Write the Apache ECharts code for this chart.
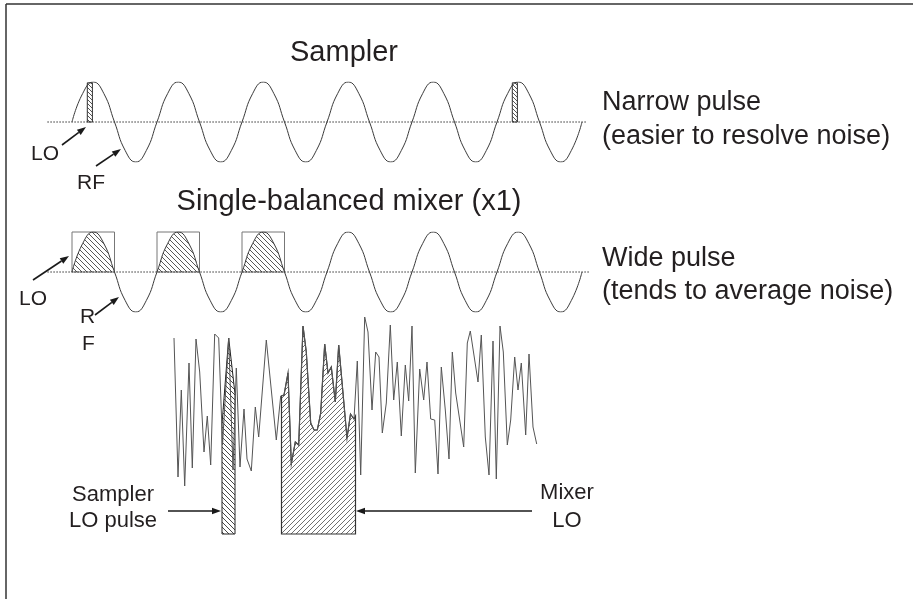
<!DOCTYPE html>
<html>
<head>
<meta charset="utf-8">
<title>Sampler vs mixer</title>
<script src="https://cdn.jsdelivr.net/npm/echarts@6/dist/echarts.min.js"></script>
<style>
  html, body { margin: 0; padding: 0; background: #fff; }
  #container { width: 913px; height: 599px; }
</style>
</head>
<body>
<div id="container"></div>
<script>
// one cycle of the RF wave, read at eighth-period steps (normalised amplitude)
var cycleT = [0, 0.125, 0.25, 0.375, 0.5, 0.625, 0.75, 0.875];
var cycleV = [0, 0.71, 1, 0.71, 0, -0.71, -1, -0.71];
var nCycles = 6;

// positive half cycle (mixer LO window)
var halfT = [0, 0.125, 0.25, 0.375, 0.5];
var halfV = [0, 0.71, 1, 0.71, 0];
var mixerWindows = [0, 1, 2];            // cycles that carry a wide LO pulse
var samplerPulses = [[0.18, 0.24], [5.18, 5.24]];  // narrow LO pulses (cycles)
var samplerPulseTop = 0.98;

// noisy RF (time, level)
var noiseT = [0, 4, 7.3, 10.7, 15, 18.3, 22, 25.7, 30, 33.3, 36.7, 40.7, 44.7, 48.5, 54.7, 59, 62.3, 66, 70, 73, 77.3, 81.3, 84.7,
  92.3, 102.3, 106.7, 110, 114, 117.3, 121.3, 124.7, 129, 132.3, 136.7, 140, 143.3, 146.7, 150.7, 154, 157.3, 161.3, 164.7,
  169, 173, 176.5, 180, 183.3, 186.7, 190.7, 194, 198, 201.7, 205, 208.3, 212.3, 216.3, 219.7, 223.3, 227.3, 231.3, 234.7,
  238, 241.3, 245.7, 249.7, 253, 256.7, 260.7, 264, 267.3, 271.3, 275, 278.3, 281.7, 285.7, 289.7, 293.3, 296.3, 300.7, 304,
  307.3, 311.3, 315, 319, 322.3, 326, 329.3, 333.3, 336.7, 340.7, 344, 347.3, 351.7, 355, 359, 362.7];
var noiseV = [196, 57, 144, 48, 171, 66, 195, 162, 82, 118, 69, 200, 196, 89, 196, 64, 166, 67, 125, 75, 63, 127, 97,
  194, 94, 138, 139, 161, 70, 92, 89, 208, 182, 111, 104, 104, 121, 190, 161, 167, 132, 189,
  141, 96, 120, 115, 173, 59, 217, 202, 124, 182, 177, 101, 131, 209, 134, 172, 98, 169, 133,
  208, 61, 165, 134, 172, 115, 114, 60, 167, 124, 75, 182, 141, 114, 87, 191, 203, 174, 152,
  199, 97, 59, 193, 55, 208, 182, 89, 114, 177, 144, 171, 99, 180, 107, 90];

// sampler LO pulse on the noise (top outline)
var samplerLoT = [48, 54.7, 61];
var samplerLoV = [110, 196, 140];
// mixer LO window on the noise
var mixerLoStart = 107.5, mixerLoEnd = 181.5;
var mixerLoStartV = 138, mixerLoEndV = 118;

var font = "'Liberation Sans', Arial, sans-serif";
var ink = '#231f20';

function hatch(size, dir, color, width) {
  var c = document.createElement('canvas');
  c.width = c.height = size;
  var g = c.getContext('2d');
  g.strokeStyle = color;
  g.lineWidth = width;
  g.beginPath();
  for (var k = -1; k <= 1; k++) {
    if (dir === 'back') { g.moveTo(k * size, 0); g.lineTo(k * size + size, size); }
    else { g.moveTo(k * size, size); g.lineTo(k * size + size, 0); }
  }
  g.stroke();
  return { image: c, repeat: 'repeat' };
}

var hatchBox = hatch(5, 'back', '#3a3a3a', 0.85);
var hatchNarrow = hatch(4, 'back', '#444', 0.9);
var hatchSampler = hatch(5, 'back', '#333', 0.9);
var hatchMixer = hatch(5, 'fwd', '#555', 0.85);

// build wave data
var wave = [];
for (var c = 0; c < nCycles; c++) {
  for (var i = 0; i < cycleT.length; i++) wave.push([c + cycleT[i], cycleV[i]]);
}
wave.push([nCycles, 0]);

var noise = noiseT.map(function (t, i) { return [t, noiseV[i]]; });

var samplerPoly = [[samplerLoT[0], 0]];
samplerLoT.forEach(function (t, i) { samplerPoly.push([t, samplerLoV[i]]); });
samplerPoly.push([samplerLoT[samplerLoT.length - 1], 0]);

var mixerPoly = [[mixerLoStart, 0], [mixerLoStart, mixerLoStartV]];
noise.forEach(function (p) { if (p[0] > mixerLoStart && p[0] < mixerLoEnd) mixerPoly.push(p); });
mixerPoly.push([mixerLoEnd, mixerLoEndV], [mixerLoEnd, 0]);

function polySeries(poly, fill, xi, stroke, lw) {
  return {
    type: 'custom', xAxisIndex: xi, yAxisIndex: xi, data: [0], silent: true, z: 3,
    renderItem: function (params, api) {
      return {
        type: 'polygon',
        shape: { points: poly.map(function (p) { return api.coord(p); }) },
        style: { fill: fill, stroke: stroke, lineWidth: lw }
      };
    }
  };
}

var series = [];
// sampler wave
series.push({ type: 'line', xAxisIndex: 0, yAxisIndex: 0, data: [[-0.29, 0], [6.05, 0]], symbol: 'none',
  lineStyle: { color: '#333', width: 1, type: [1.5, 1.5] }, z: 1 });
series.push({ type: 'line', xAxisIndex: 0, yAxisIndex: 0, data: wave, smooth: 0.5, symbol: 'none',
  lineStyle: { color: '#3a3a3a', width: 1 }, z: 2 });
samplerPulses.forEach(function (p) {
  series.push(polySeries([[p[0], 0], [p[0], samplerPulseTop], [p[1], samplerPulseTop], [p[1], 0]],
    hatchNarrow, 0, '#333', 1));
});

// mixer wave
series.push({ type: 'line', xAxisIndex: 1, yAxisIndex: 1, data: [[-0.29, 0], [6.09, 0]], symbol: 'none',
  lineStyle: { color: '#333', width: 1, type: [1.5, 1.5] }, z: 1 });
series.push({ type: 'line', xAxisIndex: 1, yAxisIndex: 1, data: wave, smooth: 0.5, symbol: 'none',
  lineStyle: { color: '#3a3a3a', width: 1 }, z: 2,
  markArea: {
    silent: true,
    itemStyle: { color: 'rgba(0,0,0,0)', borderColor: '#777', borderWidth: 1 },
    data: mixerWindows.map(function (k) { return [{ xAxis: k, yAxis: 0 }, { xAxis: k + 0.5, yAxis: 1 }]; })
  }
});
mixerWindows.forEach(function (k) {
  series.push({ type: 'line', xAxisIndex: 1, yAxisIndex: 1, smooth: 0.5, symbol: 'none', z: 1,
    data: halfT.map(function (t, i) { return [k + t, halfV[i]]; }),
    lineStyle: { width: 0 }, areaStyle: { color: hatchBox, opacity: 1, origin: 0 } });
});

// noise
series.push(polySeries(samplerPoly, hatchSampler, 2, '#222', 1));
series.push(polySeries(mixerPoly, hatchMixer, 2, '#333', 1.2));
series.push({ type: 'line', xAxisIndex: 2, yAxisIndex: 2, data: noise, symbol: 'none',
  lineStyle: { color: '#555', width: 1 }, z: 4 });

function arrow(x1, y1, x2, y2) {
  var a = Math.atan2(y2 - y1, x2 - x1), L = 9, W = 3.2;
  var bx = x2 - L * Math.cos(a), by = y2 - L * Math.sin(a);
  return {
    type: 'group', children: [
      { type: 'line', shape: { x1: x1, y1: y1, x2: bx, y2: by }, style: { stroke: '#1a1a1a', lineWidth: 1.6 } },
      { type: 'polygon', shape: { points: [[x2, y2],
        [bx + W * Math.sin(a), by - W * Math.cos(a)], [bx - W * Math.sin(a), by + W * Math.cos(a)]] },
        style: { fill: '#1a1a1a' } }
    ]
  };
}

function label(text, x, y, size, align) {
  return { type: 'text', x: x, y: y, silent: true,
    style: { text: text, font: size + 'px ' + font, fill: ink, align: align || 'left', verticalAlign: 'middle' } };
}

var graphics = [
  { type: 'line', shape: { x1: 6, y1: 4, x2: 913, y2: 4 }, style: { stroke: '#333', lineWidth: 1.5 } },
  { type: 'line', shape: { x1: 6, y1: 4, x2: 6, y2: 599 }, style: { stroke: '#333', lineWidth: 1.5 } },
  label('Sampler', 344, 53, 29, 'center'),
  label('Single-balanced mixer (x1)', 349, 202, 29, 'center'),
  label('Narrow pulse', 602, 103, 27),
  label('(easier to resolve noise)', 602, 137, 27),
  label('Wide pulse', 602, 259, 27),
  label('(tends to average noise)', 602, 292, 27),
  label('LO', 31, 154, 21),
  label('RF', 77, 183, 21),
  label('LO', 19, 299, 21),
  label('R', 80, 317, 21),
  label('F', 82, 344, 21),
  label('Sampler', 113, 495, 22, 'center'),
  label('LO pulse', 113, 521, 22, 'center'),
  label('Mixer', 567, 493, 22, 'center'),
  label('LO', 567, 521, 22, 'center'),
  arrow(62, 145, 86, 127),
  arrow(96, 166, 121, 149),
  arrow(33, 280, 69, 256),
  arrow(95, 315, 119, 297),
  arrow(168, 511, 221, 511),
  arrow(532, 511, 356, 511)
];

var myChart = echarts.init(document.getElementById('container'));
var option = {
  backgroundColor: '#fff',
  animation: false,
  grid: [
    { left: 46.5, top: 82, width: 544, height: 80 },
    { left: 46.5, top: 232, width: 544, height: 80 },
    { left: 174, top: 314, width: 363, height: 220 }
  ],
  xAxis: [
    { type: 'value', gridIndex: 0, min: -0.3, max: 6.1, show: false },
    { type: 'value', gridIndex: 1, min: -0.3, max: 6.1, show: false },
    { type: 'value', gridIndex: 2, min: 0, max: 363, show: false }
  ],
  yAxis: [
    { type: 'value', gridIndex: 0, min: -1, max: 1, show: false },
    { type: 'value', gridIndex: 1, min: -1, max: 1, show: false },
    { type: 'value', gridIndex: 2, min: 0, max: 220, show: false }
  ],
  series: series,
  graphic: graphics
};
myChart.setOption(option);
</script>
</body>
</html>
